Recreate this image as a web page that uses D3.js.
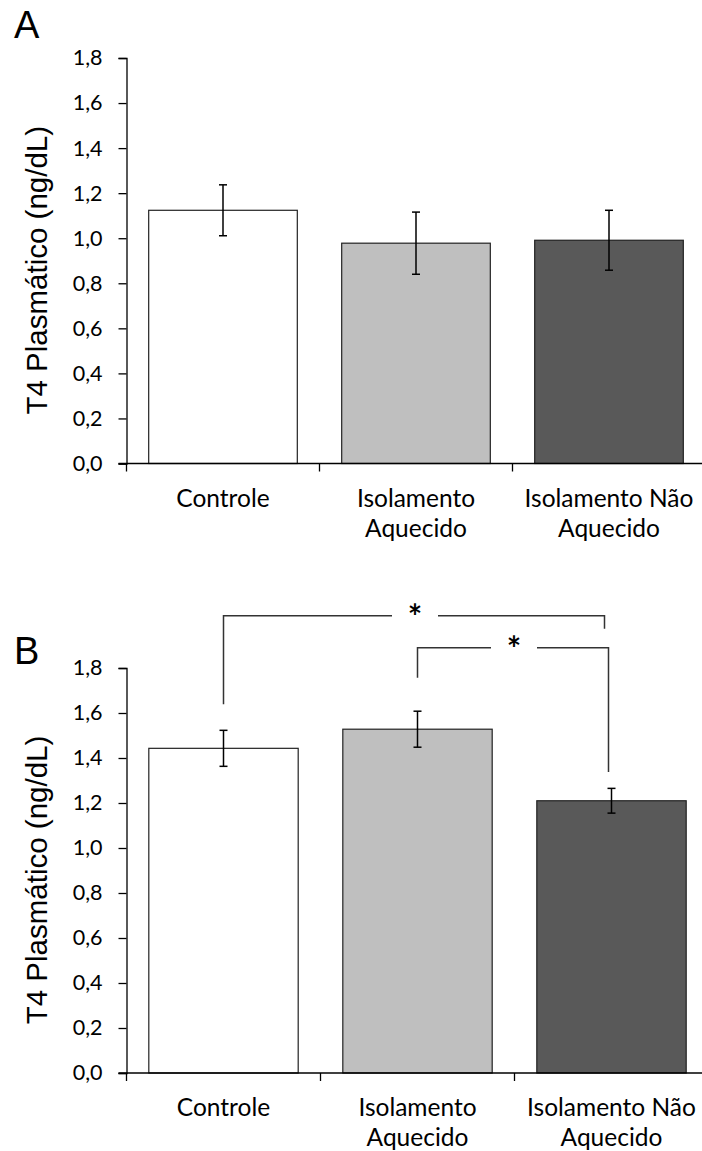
<!DOCTYPE html>
<html lang="pt">
<head>
<meta charset="utf-8">
<script src="https://cdn.jsdelivr.net/npm/d3@7"></script>
<style>
  body { margin: 0; background: #fff; }
  .tick text { font-family: Lato, "Open Sans", sans-serif; font-size: 21.5px; fill: #000; }
  .catlabel { font-family: Lato, "Open Sans", sans-serif; font-size: 24.5px; fill: #000; }
  .ylabel { font-family: "Liberation Sans", Arial, sans-serif; font-size: 29.5px; fill: #000; }
  .panel { font-family: "Liberation Sans", Arial, sans-serif; font-size: 38px; fill: #000; }
  .star { font-family: Lato, sans-serif; font-size: 34px; font-weight: bold; fill: #000; }
</style>
</head>
<body>
<div id="chart"></div>
<script>

// categories and labels (split in lines as in the figure)
var categories = ["Controle", "Isolamento Aquecido", "Isolamento Não Aquecido"];
var catLines = [["Controle"], ["Isolamento", "Aquecido"], ["Isolamento Não", "Aquecido"]];
var barColors = ["#ffffff", "#bfbfbf", "#595959"];
var yTicks = [0, 0.2, 0.4, 0.6, 0.8, 1.0, 1.2, 1.4, 1.6, 1.8];

// panel A values (mean, error)
var meanA = [1.124, 0.978, 0.991];
var errA = [0.113, 0.138, 0.133];

// panel B values (mean, error)
var meanB = [1.443, 1.528, 1.210];
var errB = [0.080, 0.080, 0.055];

// significance brackets in panel B (data units)
var bracketsB = [
  {from: 0, to: 2, level: 2.032, leftEnd: 1.639, rightEnd: 1.975, rightShift: -7},
  {from: 1, to: 2, level: 1.890, leftEnd: 1.757, rightEnd: 1.338, rightShift: -3}
];

var W = 702, H = 1151;

var svg = d3.select("#chart").append("svg")
    .attr("width", W)
    .attr("height", H);

function fmt(d) { return d3.format(".1f")(d).replace(".", ","); }

function drawPanel(opts) {
  var g = svg.append("g");

  var x = d3.scaleBand()
      .domain(categories)
      .range([opts.x0, opts.x1])
      .padding(0);
  var bw = x.bandwidth();

  var y = d3.scaleLinear()
      .domain([0, 1.8])
      .range([opts.yBottom, opts.yTop]);

  // bars
  g.selectAll(".bar")
    .data(categories)
    .enter().append("rect")
      .attr("x", function(d) { return x(d) + bw * 0.115; })
      .attr("y", function(d, i) { return y(opts.mean[i]); })
      .attr("width", bw * 0.77)
      .attr("height", function(d, i) { return y(0) - y(opts.mean[i]); })
      .attr("fill", function(d, i) { return barColors[i]; })
      .attr("stroke", "#222")
      .attr("stroke-width", 1.2);

  // error bars
  var eb = g.selectAll(".err")
    .data(categories)
    .enter().append("g");
  eb.append("line")
      .attr("x1", function(d) { return x(d) + bw / 2; })
      .attr("x2", function(d) { return x(d) + bw / 2; })
      .attr("y1", function(d, i) { return y(opts.mean[i] + opts.err[i]); })
      .attr("y2", function(d, i) { return y(opts.mean[i] - opts.err[i]); })
      .attr("stroke", "#000").attr("stroke-width", 1.5);
  [1, -1].forEach(function(s) {
    eb.append("line")
        .attr("x1", function(d) { return x(d) + bw / 2 - 4; })
        .attr("x2", function(d) { return x(d) + bw / 2 + 4; })
        .attr("y1", function(d, i) { return y(opts.mean[i] + s * opts.err[i]); })
        .attr("y2", function(d, i) { return y(opts.mean[i] + s * opts.err[i]); })
        .attr("stroke", "#000").attr("stroke-width", 1.5);
  });

  // y axis
  var yAxis = g.append("g")
      .attr("transform", "translate(" + opts.x0 + ",0)")
      .call(d3.axisLeft(y).tickValues(yTicks).tickFormat(fmt).tickSize(8).tickPadding(16));
  yAxis.select(".domain").attr("stroke", "#000").attr("stroke-width", 1.3);
  yAxis.selectAll(".tick line").attr("stroke", "#000").attr("stroke-width", 1.3);

  // x axis with ticks at category boundaries
  g.append("line")
      .attr("x1", opts.x0 - 8).attr("x2", W)
      .attr("y1", y(0)).attr("y2", y(0))
      .attr("stroke", "#000").attr("stroke-width", 1.3);
  g.selectAll(".xtick")
    .data(categories)
    .enter().append("line")
      .attr("x1", function(d) { return x(d); })
      .attr("x2", function(d) { return x(d); })
      .attr("y1", y(0)).attr("y2", y(0) + 8)
      .attr("stroke", "#000").attr("stroke-width", 1.3);

  // category labels
  var lab = g.selectAll(".catlabel")
    .data(categories)
    .enter().append("text")
      .attr("class", "catlabel")
      .attr("text-anchor", "middle")
      .attr("x", function(d) { return x(d) + bw / 2; })
      .attr("y", y(0) + 43);
  lab.each(function(d, i) {
    var t = d3.select(this);
    catLines[i].forEach(function(line, k) {
      t.append("tspan")
        .attr("x", x(d) + bw / 2)
        .attr("dy", k === 0 ? 0 : 30)
        .text(line);
    });
  });

  // y axis title
  g.append("text")
      .attr("class", "ylabel")
      .attr("text-anchor", "middle")
      .attr("transform", "translate(47," + ((opts.yTop + opts.yBottom) / 2 + 9.5) + ") rotate(-90)")
      .text("T4 Plasmático (ng/dL)");

  // panel letter
  g.append("text")
      .attr("class", "panel")
      .attr("x", 14)
      .attr("y", opts.letterY)
      .text(opts.letter);

  // significance brackets
  (opts.brackets || []).forEach(function(b) {
    var xl = x(categories[b.from]) + bw / 2;
    var xr = x(categories[b.to]) + bw / 2 + b.rightShift;
    var xm = (xl + xr) / 2 + 1;
    var yl = y(b.level);
    var gap = 23;
    var path = "M" + xl + "," + y(b.leftEnd) + "V" + yl + "H" + (xm - gap) +
               "M" + (xm + gap) + "," + yl + "H" + xr + "V" + y(b.rightEnd);
    g.append("path")
        .attr("d", path)
        .attr("fill", "none")
        .attr("stroke", "#333")
        .attr("stroke-width", 1.5);
    g.append("text")
        .attr("class", "star")
        .attr("text-anchor", "middle")
        .attr("x", xm)
        .attr("y", yl + 13)
        .text("*");
  });
}

drawPanel({letter: "A", letterY: 38, mean: meanA, err: errA,
           x0: 126.5, x1: 705.5, yBottom: 463.5, yTop: 58});
drawPanel({letter: "B", letterY: 664, mean: meanB, err: errB, brackets: bracketsB,
           x0: 126.5, x1: 708.5, yBottom: 1073, yTop: 668});

</script>
</body>
</html>
